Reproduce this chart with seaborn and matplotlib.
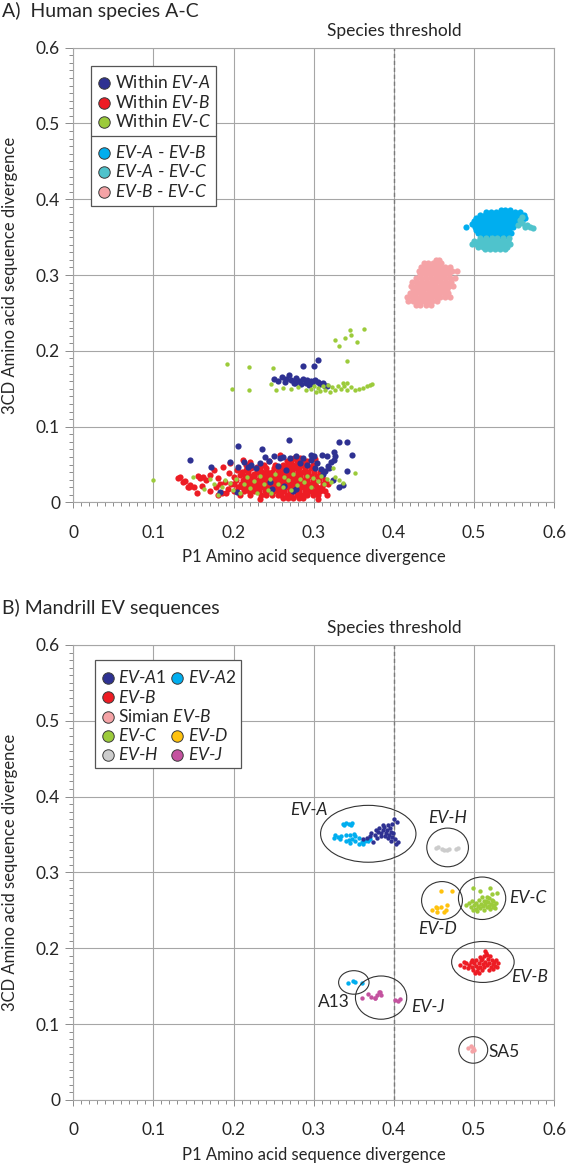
import seaborn as sns
import matplotlib.pyplot as plt
import numpy as np
import pandas as pd
from matplotlib.patches import Ellipse, Rectangle
from matplotlib.ticker import MultipleLocator, FuncFormatter
import matplotlib.transforms as mtransforms

sns.set_theme(style="white")
plt.rcParams['font.family'] = ['Lato', 'DejaVu Sans']
plt.rcParams['mathtext.fontset'] = 'custom'
plt.rcParams['mathtext.rm'] = 'Lato'
plt.rcParams['mathtext.it'] = 'Lato:italic'

# ---------------- panel A: human species A-C ----------------
# dense clusters, read off row by row: (3CD divergence, [P1 divergences])
within_b_rows = [
    (0.006, [0.262, 0.268, 0.274, 0.281, 0.287]),
    (0.010, [0.208, 0.221, 0.234, 0.241, 0.248, 0.255, 0.259, 0.266, 0.272, 0.279, 0.285, 0.292, 0.299, 0.305]),
    (0.015, [0.200, 0.213, 0.219, 0.226, 0.232, 0.239, 0.245, 0.251, 0.257, 0.263, 0.270, 0.276, 0.282, 0.289, 0.295, 0.301, 0.308, 0.314]),
    (0.020, [0.205, 0.211, 0.217, 0.223, 0.229, 0.236, 0.242, 0.248, 0.254, 0.260, 0.266, 0.273, 0.279, 0.285, 0.291, 0.297, 0.304, 0.310]),
    (0.025, [0.197, 0.209, 0.215, 0.221, 0.227, 0.233, 0.239, 0.245, 0.252, 0.258, 0.264, 0.270, 0.276, 0.283, 0.289, 0.295, 0.302, 0.311, 0.318]),
    (0.030, [0.203, 0.212, 0.218, 0.224, 0.230, 0.237, 0.243, 0.249, 0.255, 0.261, 0.267, 0.274, 0.280, 0.286, 0.292, 0.299, 0.306, 0.314]),
    (0.035, [0.214, 0.220, 0.226, 0.233, 0.239, 0.246, 0.252, 0.258, 0.264, 0.270, 0.277, 0.283, 0.290, 0.297, 0.304, 0.310]),
    (0.040, [0.211, 0.218, 0.229, 0.235, 0.242, 0.248, 0.255, 0.261, 0.267, 0.273, 0.280, 0.286, 0.293, 0.300, 0.308]),
    (0.045, [0.222, 0.233, 0.240, 0.250, 0.257, 0.263, 0.270, 0.276, 0.282, 0.289, 0.296]),
    (0.050, [0.215, 0.238, 0.252, 0.262, 0.268, 0.274, 0.280, 0.286, 0.292, 0.299]),
    (0.055, [0.244, 0.266, 0.272, 0.279, 0.285, 0.291]),
    (0.059, [0.275, 0.283]),
]
within_b_tail = [
    (0.131, 0.032), (0.133, 0.034), (0.139, 0.028), (0.144, 0.021), (0.146, 0.023), (0.154, 0.013),
    (0.156, 0.035), (0.158, 0.032), (0.162, 0.034), (0.166, 0.030), (0.171, 0.036), (0.175, 0.043),
    (0.181, 0.032), (0.183, 0.025), (0.187, 0.047), (0.189, 0.027), (0.194, 0.039), (0.196, 0.052),
    (0.200, 0.034), (0.201, 0.025), (0.204, 0.043), (0.208, 0.036), (0.212, 0.056), (0.216, 0.043),
    (0.221, 0.054), (0.225, 0.038), (0.229, 0.047), (0.150, 0.020), (0.170, 0.015), (0.186, 0.012),
    (0.193, 0.018), (0.160, 0.022), (0.178, 0.020), (0.137, 0.027), (0.143, 0.021), (0.180, 0.010),
    (0.191, 0.012), (0.305, 0.004), (0.316, 0.010), (0.233, 0.004), (0.258, 0.062), (0.302, 0.057),
]
within_a = [
    # upper group
    (0.251, 0.163), (0.256, 0.160), (0.260, 0.165), (0.264, 0.159), (0.269, 0.168), (0.272, 0.162),
    (0.275, 0.158), (0.278, 0.164), (0.281, 0.160), (0.284, 0.156), (0.287, 0.180), (0.287, 0.163),
    (0.290, 0.158), (0.292, 0.161), (0.294, 0.155), (0.296, 0.160), (0.298, 0.157), (0.300, 0.180),
    (0.302, 0.161), (0.305, 0.188), (0.305, 0.159), (0.308, 0.156), (0.311, 0.158), (0.314, 0.154),
    (0.316, 0.153), (0.265, 0.163), (0.277, 0.157),
    # lower group
    (0.145, 0.056), (0.172, 0.047), (0.196, 0.053), (0.205, 0.075), (0.236, 0.071), (0.269, 0.082),
    (0.332, 0.080), (0.342, 0.080), (0.348, 0.063), (0.341, 0.042), (0.337, 0.023), (0.331, 0.021),
    (0.325, 0.067), (0.316, 0.061), (0.310, 0.063), (0.300, 0.061), (0.296, 0.063), (0.278, 0.061),
    (0.270, 0.059), (0.262, 0.060), (0.251, 0.061), (0.258, 0.058), (0.244, 0.055), (0.233, 0.052),
    (0.222, 0.050), (0.213, 0.054), (0.206, 0.047), (0.183, 0.014), (0.204, 0.014), (0.245, 0.027),
    (0.265, 0.043), (0.278, 0.018), (0.296, 0.056), (0.304, 0.052), (0.314, 0.042), (0.318, 0.048),
    (0.321, 0.054), (0.325, 0.056), (0.324, 0.030), (0.319, 0.045), (0.309, 0.044), (0.312, 0.038),
    (0.287, 0.058), (0.283, 0.052), (0.256, 0.048), (0.228, 0.045), (0.239, 0.060), (0.218, 0.047),
    (0.292, 0.050), (0.301, 0.046), (0.326, 0.061), (0.263, 0.022), (0.274, 0.015), (0.248, 0.018),
]
within_c = [
    # upper group
    (0.192, 0.183), (0.219, 0.179), (0.249, 0.178), (0.198, 0.150), (0.219, 0.148), (0.253, 0.148),
    (0.247, 0.156), (0.327, 0.214), (0.332, 0.206), (0.339, 0.217), (0.345, 0.228), (0.346, 0.221),
    (0.354, 0.212), (0.363, 0.229), (0.341, 0.186),
    (0.262, 0.151), (0.272, 0.150), (0.280, 0.152), (0.290, 0.148), (0.296, 0.150), (0.300, 0.154),
    (0.305, 0.151), (0.308, 0.147), (0.311, 0.153), (0.314, 0.149), (0.318, 0.155), (0.323, 0.152),
    (0.327, 0.148), (0.330, 0.154), (0.334, 0.150), (0.338, 0.153), (0.342, 0.148), (0.346, 0.152),
    (0.352, 0.149), (0.356, 0.150), (0.361, 0.151), (0.366, 0.153), (0.370, 0.155), (0.373, 0.156),
    (0.320, 0.146), (0.303, 0.146), (0.336, 0.157), (0.341, 0.158),
    # lower group
    (0.100, 0.029), (0.149, 0.033), (0.163, 0.018), (0.170, 0.031), (0.176, 0.024), (0.180, 0.010),
    (0.186, 0.021), (0.189, 0.030), (0.195, 0.026), (0.199, 0.016), (0.203, 0.031), (0.208, 0.013),
    (0.213, 0.024), (0.217, 0.034), (0.221, 0.019), (0.226, 0.028), (0.229, 0.012), (0.233, 0.035),
    (0.238, 0.024), (0.243, 0.017), (0.246, 0.031), (0.252, 0.037), (0.255, 0.025), (0.261, 0.021),
    (0.263, 0.033), (0.268, 0.029), (0.274, 0.038), (0.279, 0.023), (0.283, 0.031), (0.288, 0.027),
    (0.291, 0.035), (0.297, 0.021), (0.299, 0.032), (0.305, 0.028), (0.309, 0.035), (0.313, 0.024),
    (0.317, 0.031), (0.322, 0.027), (0.327, 0.033), (0.331, 0.029), (0.336, 0.026), (0.352, 0.039),
    (0.324, 0.045), (0.247, 0.012), (0.272, 0.016),
]
a_vs_b_rows = [
    (0.386, [0.533, 0.539, 0.545]),
    (0.383, [0.515, 0.521, 0.527, 0.533, 0.539, 0.545, 0.551, 0.557]),
    (0.379, [0.508, 0.514, 0.520, 0.526, 0.532, 0.538, 0.544, 0.550, 0.556, 0.562]),
    (0.375, [0.503, 0.509, 0.515, 0.521, 0.527, 0.533, 0.539, 0.545, 0.551, 0.557, 0.564]),
    (0.371, [0.500, 0.506, 0.512, 0.518, 0.524, 0.530, 0.536, 0.542, 0.548, 0.554, 0.560]),
    (0.367, [0.498, 0.504, 0.510, 0.516, 0.522, 0.528, 0.534, 0.540, 0.546, 0.552]),
    (0.363, [0.490, 0.501, 0.507, 0.513, 0.519, 0.525, 0.531, 0.537, 0.543, 0.549]),
    (0.359, [0.502, 0.508, 0.514, 0.520, 0.526, 0.532, 0.538, 0.544]),
    (0.355, [0.505, 0.511, 0.517, 0.523, 0.529, 0.535, 0.541, 0.546]),
    (0.352, [0.509, 0.516, 0.524, 0.533, 0.541]),
]
a_vs_c_rows = [
    (0.349, [0.508, 0.515, 0.522, 0.529, 0.536, 0.543]),
    (0.345, [0.500, 0.506, 0.512, 0.518, 0.524, 0.530, 0.536, 0.542]),
    (0.341, [0.497, 0.503, 0.509, 0.515, 0.521, 0.527, 0.533, 0.539, 0.545]),
    (0.337, [0.505, 0.511, 0.517, 0.523, 0.529, 0.535, 0.541]),
    (0.334, [0.514, 0.520, 0.526, 0.532, 0.538]),
    (0.366, [0.555, 0.566]),
    (0.364, [0.563, 0.570]),
    (0.362, [0.573]),
    (0.369, [0.560]),
    (0.372, [0.557]),
    (0.376, [0.560]),
]
b_vs_c_rows = [
    (0.320, [0.452, 0.456]),
    (0.316, [0.437, 0.443, 0.449, 0.455, 0.459]),
    (0.311, [0.434, 0.440, 0.446, 0.452, 0.458, 0.464, 0.470]),
    (0.306, [0.431, 0.437, 0.443, 0.449, 0.455, 0.461, 0.467, 0.473, 0.479]),
    (0.301, [0.433, 0.439, 0.445, 0.451, 0.457, 0.463, 0.469]),
    (0.296, [0.428, 0.434, 0.440, 0.446, 0.452, 0.458, 0.464, 0.470, 0.476]),
    (0.291, [0.423, 0.429, 0.435, 0.441, 0.447, 0.453, 0.459, 0.465, 0.471]),
    (0.286, [0.421, 0.427, 0.433, 0.439, 0.445, 0.451, 0.457, 0.463, 0.469, 0.474]),
    (0.281, [0.424, 0.430, 0.436, 0.442, 0.448, 0.454, 0.460, 0.466]),
    (0.276, [0.420, 0.426, 0.432, 0.438, 0.444, 0.450, 0.456, 0.462, 0.468]),
    (0.271, [0.416, 0.422, 0.428, 0.434, 0.440, 0.446, 0.452, 0.458, 0.464, 0.470]),
    (0.266, [0.418, 0.424, 0.430, 0.436, 0.442, 0.448, 0.454]),
    (0.261, [0.427, 0.433, 0.440, 0.446]),
]

# ---------------- panel B: mandrill EV sequences ----------------
ev_a1 = [(0.362, 0.344), (0.366, 0.346), (0.370, 0.348), (0.372, 0.352), (0.376, 0.350), (0.378, 0.356),
         (0.380, 0.354), (0.382, 0.358), (0.384, 0.352), (0.386, 0.356), (0.388, 0.360), (0.389, 0.348),
         (0.390, 0.352), (0.391, 0.356), (0.392, 0.362), (0.393, 0.345), (0.394, 0.350), (0.395, 0.358),
         (0.396, 0.342), (0.396, 0.354), (0.397, 0.364), (0.398, 0.347), (0.399, 0.352), (0.400, 0.370),
         (0.401, 0.344), (0.402, 0.338), (0.404, 0.367), (0.405, 0.340), (0.384, 0.348), (0.379, 0.346),
         (0.374, 0.340), (0.387, 0.362)]
ev_a2 = [(0.336, 0.364), (0.340, 0.365), (0.344, 0.364), (0.348, 0.365), (0.338, 0.362), (0.346, 0.362),
         (0.326, 0.350), (0.330, 0.347), (0.334, 0.348), (0.340, 0.349), (0.345, 0.350), (0.350, 0.351),
         (0.352, 0.348), (0.356, 0.345), (0.325, 0.345), (0.333, 0.344), (0.344, 0.343), (0.348, 0.344),
         (0.352, 0.341), (0.356, 0.338), (0.360, 0.340), (0.364, 0.342), (0.368, 0.341), (0.370, 0.344),
         (0.362, 0.337), (0.345, 0.339), (0.340, 0.342),
         # A13
         (0.343, 0.154), (0.349, 0.157), (0.352, 0.156), (0.360, 0.154)]
ev_b = [(0.483, 0.178), (0.487, 0.176), (0.490, 0.180), (0.492, 0.174), (0.494, 0.178), (0.496, 0.182),
        (0.498, 0.176), (0.499, 0.172), (0.500, 0.180), (0.502, 0.177), (0.503, 0.184), (0.504, 0.170),
        (0.505, 0.174), (0.506, 0.180), (0.507, 0.188), (0.508, 0.176), (0.509, 0.184), (0.510, 0.172),
        (0.511, 0.179), (0.512, 0.190), (0.513, 0.175), (0.514, 0.182), (0.515, 0.194), (0.516, 0.178),
        (0.517, 0.186), (0.518, 0.172), (0.519, 0.180), (0.520, 0.190), (0.521, 0.176), (0.522, 0.184),
        (0.523, 0.179), (0.524, 0.173), (0.525, 0.182), (0.526, 0.177), (0.527, 0.185), (0.528, 0.175),
        (0.530, 0.180), (0.501, 0.168), (0.506, 0.167), (0.514, 0.197), (0.516, 0.191), (0.510, 0.186),
        (0.497, 0.184), (0.488, 0.182)]
simian_b = [(0.493, 0.068), (0.496, 0.071), (0.499, 0.069), (0.498, 0.064), (0.500, 0.066)]
ev_c = [(0.499, 0.279), (0.507, 0.276), (0.520, 0.280), (0.522, 0.271), (0.529, 0.273), (0.516, 0.268),
        (0.490, 0.257), (0.494, 0.260), (0.496, 0.254), (0.498, 0.262), (0.500, 0.257), (0.502, 0.252),
        (0.503, 0.260), (0.505, 0.256), (0.506, 0.264), (0.508, 0.253), (0.509, 0.259), (0.511, 0.256),
        (0.512, 0.262), (0.513, 0.250), (0.514, 0.258), (0.516, 0.254), (0.517, 0.261), (0.518, 0.256),
        (0.519, 0.266), (0.520, 0.252), (0.521, 0.259), (0.523, 0.255), (0.524, 0.262), (0.525, 0.257),
        (0.526, 0.253), (0.527, 0.260), (0.510, 0.267), (0.504, 0.249), (0.499, 0.250), (0.515, 0.263),
        (0.522, 0.264)]
ev_d = [(0.459, 0.276), (0.472, 0.276), (0.447, 0.250), (0.454, 0.253), (0.454, 0.248), (0.459, 0.255),
        (0.465, 0.251), (0.466, 0.257), (0.463, 0.248), (0.452, 0.255)]
ev_h = [(0.453, 0.332), (0.455, 0.334), (0.462, 0.330), (0.466, 0.329), (0.469, 0.331), (0.478, 0.331),
        (0.480, 0.332), (0.460, 0.331)]
ev_j = [(0.360, 0.134), (0.368, 0.140), (0.372, 0.136), (0.376, 0.135), (0.379, 0.139), (0.381, 0.142),
        (0.383, 0.143), (0.377, 0.134), (0.384, 0.138), (0.401, 0.132), (0.405, 0.131), (0.408, 0.133)]

# circled groups: (label, centre x, centre y, width, height, label x, label y, italic)
circles_b = [
    ("EV-A", 0.368, 0.351, 0.119, 0.075, 0.294, 0.382, True),
    ("EV-H", 0.467, 0.333, 0.052, 0.051, 0.467, 0.372, True),
    ("EV-D", 0.460, 0.263, 0.051, 0.050, 0.454, 0.226, True),
    ("EV-C", 0.510, 0.266, 0.059, 0.056, 0.567, 0.266, True),
    ("EV-B", 0.511, 0.182, 0.078, 0.054, 0.569, 0.162, True),
    ("A13", 0.350, 0.155, 0.038, 0.031, 0.325, 0.129, False),
    ("EV-J", 0.384, 0.135, 0.064, 0.057, 0.442, 0.122, True),
    ("SA5", 0.499, 0.066, 0.036, 0.035, 0.538, 0.063, False),
]

colors = {
    "navy": "#2e3192", "red": "#ed1c24", "green": "#9ccb3b", "blue": "#00aeef",
    "cyan": "#4fc3cc", "pink": "#f5a3a6", "yellow": "#ffc20e", "grey": "#cccccc",
    "magenta": "#c4529f",
}


def rows_df(rows, group):
    xs, ys = [], []
    for y, row in rows:
        xs += row
        ys += [y] * len(row)
    return pd.DataFrame({"p1": xs, "cd3": ys, "group": group})


def pts_df(pts, group):
    d = pd.DataFrame(pts, columns=["p1", "cd3"])
    d["group"] = group
    return d


df_a = pd.concat([
    rows_df(within_b_rows, "wb"), pts_df(within_b_tail, "wb"),
    pts_df(within_a, "wa"), pts_df(within_c, "wc"),
    rows_df(a_vs_b_rows, "ab"), rows_df(a_vs_c_rows, "ac"), rows_df(b_vs_c_rows, "bc"),
])
style_a = {"wb": ("red", 20), "wa": ("navy", 20), "wc": ("green", 10),
           "ab": ("blue", 20), "ac": ("cyan", 20), "bc": ("pink", 20)}

df_b = pd.concat([
    pts_df(ev_a2, "a2"), pts_df(ev_a1, "a1"), pts_df(ev_b, "b"), pts_df(simian_b, "sb"),
    pts_df(ev_c, "c"), pts_df(ev_d, "d"), pts_df(ev_h, "h"), pts_df(ev_j, "j"),
])
style_b = {"a2": "blue", "a1": "navy", "b": "red", "sb": "pink", "c": "green",
           "d": "yellow", "h": "grey", "j": "magenta"}

fig = plt.figure(figsize=(5.66, 11.65), dpi=100)
ax_a = fig.add_axes([0.1295, 0.5687, 0.8497, 0.3904])
ax_b = fig.add_axes([0.1295, 0.0558, 0.8497, 0.3906])

grid_c = "#a6a6a6"
txt_c = "#262626"


def style_axes(ax):
    ax.set_xlim(0, 0.6)
    ax.set_ylim(0, 0.6)
    for axis in (ax.xaxis, ax.yaxis):
        axis.set_major_locator(MultipleLocator(0.1))
        axis.set_minor_locator(MultipleLocator(0.01))
        axis.set_major_formatter(FuncFormatter(lambda v, p: "0" if abs(v) < 1e-9 else f"{v:.1f}"))
    ax.grid(True, which="major", color=grid_c, lw=0.8)
    ax.set_axisbelow(True)
    ax.tick_params(which="both", bottom=True, left=True, direction="out", color="#8c8c8c",
                   labelcolor=txt_c, labelsize=12.5, width=0.7)
    ax.tick_params(axis="x", which="major", length=4.5, pad=11.5)
    ax.tick_params(axis="y", which="major", length=5.5, pad=4)
    ax.tick_params(which="minor", length=3)
    for sp in ax.spines.values():
        sp.set_visible(True)
        sp.set_color(grid_c)
        sp.set_linewidth(0.8)
    ax.axvline(0.4, color="#7a7a7a", lw=1.0, ls=(0, (3, 2)), zorder=1.5)
    trans = mtransforms.blended_transform_factory(ax.transData, ax.transAxes)
    ax.text(0.4, 1.037, "Species threshold", transform=trans, ha="center", va="center",
            fontsize=12.5, color=txt_c)
    ax.set_xlabel("P1 Amino acid sequence divergence", fontsize=12, color=txt_c)
    ax.set_ylabel("3CD Amino acid sequence divergence", fontsize=12, color=txt_c)
    ax.xaxis.set_label_coords(0.5, -0.12)
    ax.xaxis.label.set_va("center")
    ax.yaxis.set_label_coords(-0.131, 0.5)
    ax.yaxis.label.set_va("center")


style_axes(ax_a)
style_axes(ax_b)

# drawing order: within-B, within-A, within-C, then between-species pairs
for g, (c, s) in style_a.items():
    sns.scatterplot(data=df_a[df_a["group"] == g], x="p1", y="cd3", color=colors[c], s=s,
                    linewidth=0, ax=ax_a, legend=False, zorder=3)

for g, c in style_b.items():
    sns.scatterplot(data=df_b[df_b["group"] == g], x="p1", y="cd3", color=colors[c], s=10,
                    linewidth=0, ax=ax_b, legend=False, zorder=3)

for lab, cx, cy, w, h, lx, ly, it in circles_b:
    ax_b.add_patch(Ellipse((cx, cy), w, h, fill=False, ec="#333333", lw=0.8, zorder=4))
    ax_b.text(lx, ly, lab, ha="center", va="center", fontsize=12.5, color=txt_c,
              fontstyle="italic" if it else "normal", zorder=5)


# ---- legends drawn as boxes inside the axes ----
def legend_box(ax, x0, x1, y0, y1, dividers=()):
    ax.add_patch(Rectangle((x0, y0), x1 - x0, y1 - y0, transform=ax.transAxes, fc="white",
                           ec="#555555", lw=0.9, zorder=6))
    for yd in dividers:
        ax.plot([x0, x1], [yd, yd], transform=ax.transAxes, color="#555555", lw=0.9, zorder=7)


def legend_item(ax, mx, tx, y, color, label):
    ax.scatter([mx], [y], s=68, color=color, edgecolor="#3a3a3a", linewidth=0.7,
               transform=ax.transAxes, zorder=8, clip_on=False)
    ax.text(tx, y, label, transform=ax.transAxes, ha="left", va="center", fontsize=12.5,
            color=txt_c, zorder=8)


legend_box(ax_a, 0.0368, 0.2957, 0.6526, 0.9598, dividers=[0.8059])
items_a = [
    ("navy", r"Within $\mathit{EV}$-$\mathit{A}$"),
    ("red", r"Within $\mathit{EV}$-$\mathit{B}$"),
    ("green", r"Within $\mathit{EV}$-$\mathit{C}$"),
    ("blue", r"$\mathit{EV}$-$\mathit{A}$ - $\mathit{EV}$-$\mathit{B}$"),
    ("cyan", r"$\mathit{EV}$-$\mathit{A}$ - $\mathit{EV}$-$\mathit{C}$"),
    ("pink", r"$\mathit{EV}$-$\mathit{B}$ - $\mathit{EV}$-$\mathit{C}$"),
]
rows_ya = [0.9224, 0.8784, 0.8366, 0.7685, 0.7267, 0.6827]
for (c, lab), y in zip(items_a, rows_ya):
    legend_item(ax_a, 0.063, 0.0863, y, colors[c], lab)

legend_box(ax_b, 0.0443, 0.3483, 0.729, 0.967)
items_b = [
    (0, 0, "navy", r"$\mathit{EV}$-$\mathit{A1}$"),
    (1, 0, "blue", r"$\mathit{EV}$-$\mathit{A2}$"),
    (0, 1, "red", r"$\mathit{EV}$-$\mathit{B}$"),
    (0, 2, "pink", r"Simian $\mathit{EV}$-$\mathit{B}$"),
    (0, 3, "green", r"$\mathit{EV}$-$\mathit{C}$"),
    (1, 3, "yellow", r"$\mathit{EV}$-$\mathit{D}$"),
    (0, 4, "grey", r"$\mathit{EV}$-$\mathit{H}$"),
    (1, 4, "magenta", r"$\mathit{EV}$-$\mathit{J}$"),
]
rows_yb = [0.9281, 0.885, 0.8424, 0.8007, 0.7589]
cols_b = [(0.0713, 0.0938), (0.2146, 0.2379)]
for col, row, c, lab in items_b:
    mx, tx = cols_b[col]
    legend_item(ax_b, mx, tx, rows_yb[row], colors[c], lab)

fig.text(0.0035, 1 - 11 / 1165, "A)  Human species A-C", ha="left", va="center", fontsize=14,
         color=txt_c)
fig.text(0.0035, 1 - 608 / 1165, "B) Mandrill EV sequences", ha="left", va="center", fontsize=14,
         color=txt_c)

fig.savefig("out.png", dpi=100)
